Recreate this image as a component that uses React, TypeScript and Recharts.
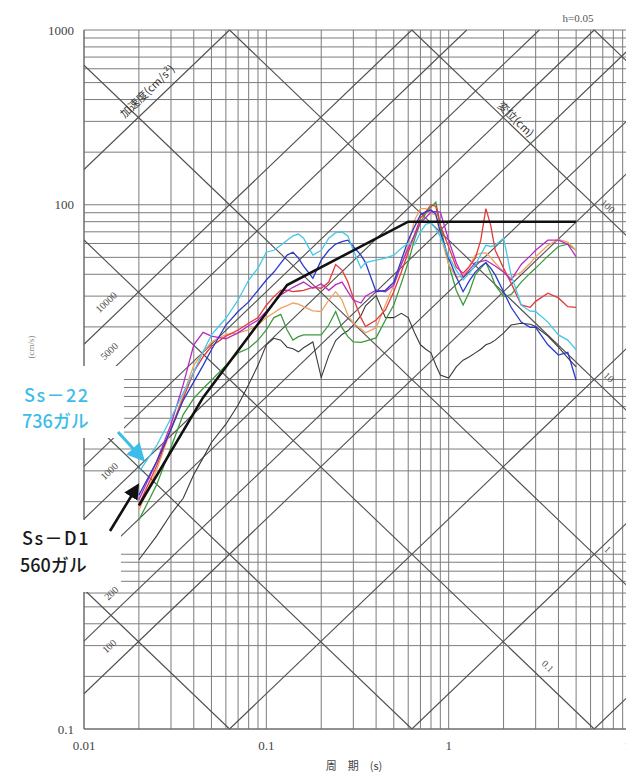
import React from "react";
import { LineChart, Line, XAxis, YAxis, ReferenceLine } from "recharts";

// 擬似速度応答スペクトル (h=0.05) — 三軸対数グラフ
const periods = [0.02, 0.025, 0.03, 0.035, 0.04, 0.045, 0.05, 0.06, 0.07, 0.08, 0.09, 0.1, 0.11, 0.12, 0.13, 0.14, 0.15, 0.16, 0.18, 0.2, 0.22, 0.24, 0.26, 0.28, 0.3, 0.33, 0.35, 0.4, 0.45, 0.5, 0.55, 0.6, 0.65, 0.7, 0.75, 0.8, 0.85, 0.9, 1.0, 1.1, 1.2, 1.3, 1.4, 1.5, 1.6, 1.7, 1.8, 2.0, 2.2, 2.5, 2.8, 3.0, 3.5, 4.0, 4.5, 5.0];

const ss22Cyan = [2.95, 4.18, 6.0, 8.4, 11.05, 14.4, 18.0, 22.4, 28.5, 37.1, 43.4, 53.5, 54.9, 58.6, 62.7, 66.3, 68, 64.4, 51.5, 54.9, 64.4, 69.2, 69.8, 66.3, 54.9, 43.4, 46.7, 48.2, 49.5, 51.5, 56.3, 60.3, 59, 69.8, 77.5, 78.5, 73, 65.7, 50.8, 42.3, 37.1, 40.6, 45.3, 51.9, 58.6, 57.7, 58.6, 64.4, 39.7, 26.7, 24.6, 24.5, 21.3, 18.0, 16.8, 14.8];
const blueSv = [2.18, 3.38, 5.17, 7.6, 9.7, 12.05, 14.8, 20.5, 24.5, 27.8, 32.4, 37.1, 41.2, 46.4, 51.5, 53.5, 49.5, 44.6, 38.0, 48.2, 54.9, 59.6, 61.5, 62.7, 57.7, 51.5, 46.7, 31.8, 32.4, 36.0, 48.2, 62.7, 75, 87.4, 91.3, 93.2, 88.4, 69.8, 49.5, 38.7, 31.8, 36.8, 41.2, 44.4, 46.7, 43.4, 39.7, 31.8, 25.9, 21.3, 19.9, 19.9, 15.8, 13.8, 14.3, 9.9];
const purpleSv = [2.05, 3.38, 5.55, 9.35, 15.8, 18.6, 17.7, 17.1, 18.5, 20.3, 21.9, 24.5, 27.4, 30.5, 32.1, 33.7, 34.9, 36.1, 33.3, 35.3, 32.4, 34.9, 36.1, 31.8, 28.5, 27.4, 30.0, 32.4, 31.8, 34.7, 45.5, 56.3, 67.3, 78.5, 84.6, 90.9, 91.3, 90.9, 62.7, 46.7, 38.5, 42.5, 46.7, 47.2, 48.2, 46.3, 44.6, 41.2, 37.1, 45.5, 51, 54.9, 62.7, 62.7, 59.5, 50.4];
const redSv = [1.92, 3.2, 5.25, 7.8, 11.05, 13.5, 15.5, 17.7, 19.2, 21.0, 22.6, 26.6, 29.8, 32.4, 32.5, 31.8, 32.1, 32.4, 33.7, 33.3, 36.1, 45.5, 42.3, 36.1, 29.3, 22.6, 20.1, 21.9, 25, 31.8, 41.2, 53.5, 67.3, 84, 90.9, 100, 98, 76.4, 57.4, 44, 40.6, 44.4, 49.5, 62.7, 95, 76.4, 54.9, 43.4, 35.6, 26.7, 25.9, 28, 31.2, 29.3, 26.1, 25.9];
const orangeSv = [1.79, 3.03, 5.17, 8.15, 12.05, 14.4, 16.4, 18.1, 18.5, 19.2, 20.5, 22.6, 24.1, 25.6, 26.5, 27.4, 27, 26.1, 24.7, 24.5, 28.5, 31.8, 28.5, 23.3, 21.0, 19.5, 18.5, 19.8, 26.7, 34.7, 45.5, 58.6, 81.6, 95, 95, 89.3, 87.4, 67.6, 45.5, 38.5, 39.1, 44.4, 51.5, 52.8, 53, 50, 46.4, 41.2, 38, 41.2, 46.3, 50.4, 58.6, 63.3, 61.1, 54.9];
const greenSv = [1.57, 2.49, 4.1, 6.3, 7.8, 8.88, 9.9, 12.05, 14.2, 15.1, 16.8, 19.2, 22.6, 23.6, 19.2, 16.8, 17.6, 18.0, 18.0, 18.0, 20.5, 24.5, 19.8, 17.6, 16.4, 16.3, 16.6, 17.3, 21.9, 26.7, 35.6, 46.7, 63.5, 79.7, 89.3, 97, 103.5, 76.4, 45.5, 32.4, 26.7, 31.8, 39.7, 43.4, 46.7, 40.6, 34.7, 29.8, 30.6, 36.1, 40.6, 43.4, 50.8, 57.7, 59.5, 54.9];
const grayLowSv = [0.93, 1.27, 1.70, 2.09, 2.86, 3.56, 4.36, 5.55, 7.15, 9.35, 12.05, 15.8, 17.2, 16.8, 15.3, 15.0, 14.4, 15.2, 16.4, 10.25, 13.7, 16.7, 18.1, 19.0, 20.5, 23.2, 26.4, 30.2, 22.6, 22.6, 23.9, 22.6, 18.5, 15.8, 14.9, 14.2, 12.1, 10.6, 10.2, 11.8, 12.9, 13.5, 14.2, 14.9, 15.8, 16.2, 16.8, 18.4, 20.5, 21.0, 20.7, 20.1, 17.7, 15.3, 13.3, 11.8];

// Ss-D1 設計用スペクトル (折れ線)
const designPeriods = [0.02, 0.045, 0.13, 0.6, 5.0];
const designSv = [1.9, 7.9, 34.7, 80, 80];

// 斜め補助線: 加速度 (cm/s²) と 変位 (cm)
const accelLines = [100000, 10000, 5000, 2000, 1000, 500, 200, 100, 10, 1, 0.1];
const dispLines = [1000, 100, 10, 1, 0.1, 0.01, 0.001];

const xTicks = [0.01, 0.1, 1, 10];
// 10 と 1 の目盛ラベルは注記の白抜きに隠れている
const yTicks = [0.1, 100, 1000];

const T_MIN = 0.01, T_MAX = 10, V_MIN = 0.1, V_MAX = 1000;
const TWO_PI = 2 * Math.PI;

const toSeries = (vals: number[]) => periods.map((t, i) => ({ t, v: vals[i] }));

const colorSeries = [
  { name: "gray", vals: grayLowSv, color: "#3a3a3a", w: 1.1 },
  { name: "green", vals: greenSv, color: "#3c9a3c", w: 1.3 },
  { name: "orange", vals: orangeSv, color: "#f2a062", w: 1.3 },
  { name: "red", vals: redSv, color: "#e5393a", w: 1.3 },
  { name: "purple", vals: purpleSv, color: "#b62bc4", w: 1.3 },
  { name: "blue", vals: blueSv, color: "#2a3ac8", w: 1.3 },
  { name: "cyan", vals: ss22Cyan, color: "#45c8e8", w: 1.3 },
];

// 対数グリッド値
const decadeGrid = (lo: number, hi: number) => {
  const out: number[] = [];
  for (let d = lo; d < hi * 0.999; d *= 10) {
    for (let k = 1; k <= 9; k++) out.push(+(k * d).toPrecision(3));
  }
  out.push(hi);
  return out;
};
const vGrid = decadeGrid(T_MIN, T_MAX);
const hGrid = decadeGrid(V_MIN, V_MAX);

// 枠内に切り取った線分
const accelSeg = (a: number) => {
  const t1 = Math.max(T_MIN, (TWO_PI * V_MIN) / a);
  const t2 = Math.min(T_MAX, (TWO_PI * V_MAX) / a);
  if (t1 >= t2) return null;
  return [{ x: t1, y: (a * t1) / TWO_PI }, { x: t2, y: (a * t2) / TWO_PI }];
};
const dispSeg = (d: number) => {
  const t1 = Math.max(T_MIN, (TWO_PI * d) / V_MAX);
  const t2 = Math.min(T_MAX, (TWO_PI * d) / V_MIN);
  if (t1 >= t2) return null;
  return [{ x: t1, y: (TWO_PI * d) / t1 }, { x: t2, y: (TWO_PI * d) / t2 }];
};

const serif = "'Liberation Serif', 'DejaVu Serif', serif";
const jp = "'Noto Sans CJK JP', 'Noto Sans', sans-serif";

export default function App() {
  return (
    <div style={{ position: "absolute", left: 0, top: 0, width: 626, height: 772, overflow: "hidden", background: "#fff" }}>
      <LineChart width={650} height={772} margin={{ top: 30, right: 19, bottom: 0, left: 8 }}>
        <XAxis
          dataKey="t"
          type="number"
          scale="log"
          domain={[T_MIN, T_MAX]}
          allowDataOverflow
          ticks={xTicks}
          tickFormatter={(v) => String(v)}
          height={43}
          tickLine={false}
          tickSize={0}
          tickMargin={12}
          axisLine={{ stroke: "#666" }}
          tick={{ fontFamily: serif, fontSize: 13, fill: "#444" }}
        />
        <YAxis
          type="number"
          scale="log"
          domain={[V_MIN, V_MAX]}
          allowDataOverflow
          ticks={yTicks}
          tickFormatter={(v) => String(v)}
          width={76}
          tickLine={false}
          tickSize={0}
          tickMargin={10}
          axisLine={{ stroke: "#666" }}
          tick={{ fontFamily: serif, fontSize: 13, fill: "#444" }}
        />
        {vGrid.map((v) => (
          <ReferenceLine key={"vx" + v} x={v} stroke="#7c7c7c" strokeWidth={1} ifOverflow="visible" />
        ))}
        {hGrid.map((v) => (
          <ReferenceLine key={"hy" + v} y={v} stroke="#7c7c7c" strokeWidth={1} ifOverflow="visible" />
        ))}
        {accelLines.map((a) => {
          const s = accelSeg(a);
          return s ? <ReferenceLine key={"a" + a} segment={s} stroke="#505050" strokeWidth={1.1} ifOverflow="visible" /> : null;
        })}
        {dispLines.map((d) => {
          const s = dispSeg(d);
          return s ? <ReferenceLine key={"d" + d} segment={s} stroke="#505050" strokeWidth={1.1} ifOverflow="visible" /> : null;
        })}
        {colorSeries.map((s) => (
          <Line
            key={s.name}
            data={toSeries(s.vals)}
            dataKey="v"
            type="linear"
            stroke={s.color}
            strokeWidth={s.w}
            dot={false}
            isAnimationActive={false}
          />
        ))}
        <Line
          data={designPeriods.map((t, i) => ({ t, v: designSv[i] }))}
          dataKey="v"
          type="linear"
          stroke="#111"
          strokeWidth={2.6}
          dot={false}
          isAnimationActive={false}
        />
      </LineChart>

      <svg width={626} height={772} style={{ position: "absolute", left: 0, top: 0, pointerEvents: "none" }}>
        <defs>
          <marker id="headCyan" markerWidth="6" markerHeight="6" refX="3" refY="3" orient="auto" markerUnits="strokeWidth">
            <path d="M0,0 L6,3 L0,6 z" fill="#3cbde9" />
          </marker>
          <marker id="headBlack" markerWidth="6" markerHeight="6" refX="3" refY="3" orient="auto" markerUnits="strokeWidth">
            <path d="M0,0 L6,3 L0,6 z" fill="#111" />
          </marker>
        </defs>
        {/* 注記の白抜き */}
        <rect x={8} y={366} width={116} height={72} fill="#fff" />
        <rect x={8} y={520} width={113} height={72} fill="#fff" />

        <text x={24} y={402} fontFamily={jp} fontSize={18} fontWeight={500} fill="#3cbde9" letterSpacing={1.5}>Ss－22</text>
        <text x={22} y={428} fontFamily={jp} fontSize={18} fontWeight={500} fill="#3cbde9">736ガル</text>
        <text x={22} y={545} fontFamily={jp} fontSize={18} fontWeight={500} fill="#1a1a1a" letterSpacing={1.5}>Ss－D1</text>
        <text x={20} y={572} fontFamily={jp} fontSize={18} fontWeight={500} fill="#1a1a1a">560ガル</text>

        <line x1={118} y1={432} x2={139} y2={455} stroke="#3cbde9" strokeWidth={3} markerEnd="url(#headCyan)" />
        <line x1={110} y1={531} x2={135} y2={490} stroke="#111" strokeWidth={2.6} markerEnd="url(#headBlack)" />

        {/* 軸ラベル */}
        <text x={354} y={770} textAnchor="middle" fontFamily={jp} fontSize={11} fill="#444">周　期　(s)</text>
        <text x={34} y={347} textAnchor="middle" fontFamily={serif} fontSize={9} fill="#888" transform="rotate(-90 34 347)">(cm/s)</text>
        <text x={578} y={22} textAnchor="middle" fontFamily={serif} fontSize={11} fill="#555">h=0.05</text>

        {/* 斜め線ラベル: 加速度 */}
        <text x={148} y={92} textAnchor="middle" dominantBaseline="middle" fontFamily={jp} fontSize={11} fill="#333" transform="rotate(-44 148 92)">加速度(cm/s²)</text>
        <text x={107} y={303} textAnchor="middle" dominantBaseline="middle" fontFamily={serif} fontSize={10} fill="#444" transform="rotate(-44 107 303)">10000</text>
        <text x={110} y={352} textAnchor="middle" dominantBaseline="middle" fontFamily={serif} fontSize={10} fill="#444" transform="rotate(-44 110 352)">5000</text>
        <text x={110} y={472} textAnchor="middle" dominantBaseline="middle" fontFamily={serif} fontSize={10} fill="#444" transform="rotate(-44 110 472)">1000</text>
        <text x={112} y={594} textAnchor="middle" dominantBaseline="middle" fontFamily={serif} fontSize={10} fill="#444" transform="rotate(-44 112 594)">200</text>
        <text x={110} y={647} textAnchor="middle" dominantBaseline="middle" fontFamily={serif} fontSize={10} fill="#444" transform="rotate(-44 110 647)">100</text>

        {/* 斜め線ラベル: 変位 */}
        <text x={515} y={120} textAnchor="middle" dominantBaseline="middle" fontFamily={jp} fontSize={11} fill="#333" transform="rotate(44 515 120)">変位(cm)</text>
        <text x={607} y={207} textAnchor="middle" dominantBaseline="middle" fontFamily={serif} fontSize={10} fill="#444" transform="rotate(44 607 207)">100</text>
        <text x={608} y={378} textAnchor="middle" dominantBaseline="middle" fontFamily={serif} fontSize={10} fill="#444" transform="rotate(44 608 378)">10</text>
        <text x={607} y={550} textAnchor="middle" dominantBaseline="middle" fontFamily={serif} fontSize={10} fill="#444" transform="rotate(44 607 550)">1</text>
        <text x={547} y={667} textAnchor="middle" dominantBaseline="middle" fontFamily={serif} fontSize={10} fill="#444" transform="rotate(44 547 667)">0.1</text>
      </svg>
    </div>
  );
}
